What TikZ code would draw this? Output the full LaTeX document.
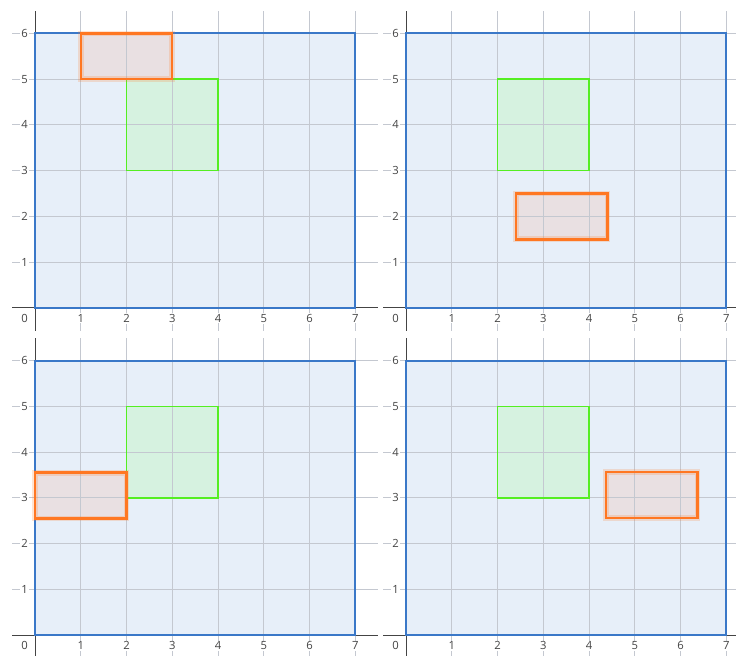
\documentclass[tikz,border=0pt]{standalone}
\usepackage{fontspec}
\setmainfont{Open Sans}
\definecolor{gridgray}{HTML}{C4C8D0}
\definecolor{axisgray}{HTML}{444444}
\definecolor{boxblue}{HTML}{3A78C8}
\definecolor{boxbluefill}{HTML}{E7EFF9}
\definecolor{boxgreen}{HTML}{55EE22}
\definecolor{boxgreenfill}{HTML}{D6F2E0}
\definecolor{boxorange}{HTML}{FF7722}
\definecolor{boxorangefill}{HTML}{E9E0E2}
\tikzset{
  gridline/.style={draw=gridgray, line width=0.6pt},
  axisline/.style={draw=axisgray, line width=0.6pt},
  ticklabel/.style={fill=white, text=axisgray, inner sep=0.6pt, font=\fontsize{7}{8}\selectfont},
  outerbox/.style={draw=boxblue, line width=1.2pt},
  targetbox/.style={draw=boxgreen, line width=1pt},
  movebox/.style={draw=boxorange, line width=1.5pt},
  moveglow/.style={draw=boxorange, draw opacity=0.2, line width=3.6pt},
}
\begin{document}
\begin{tikzpicture}
\useasboundingbox (-0.765,-7.587) rectangle (15.32,6.73);
% one panel per position of the orange box
\foreach \px/\py/\ox/\oy in {0/0/1/5, 8.11/0/2.4/1.5, 0/-7.15/0/2.55, 8.11/-7.15/4.37/2.56}{
  \begin{scope}[shift={(\px,\py)}]
    \fill[boxbluefill] (0,0) rectangle (7,6);
    \fill[boxgreenfill] (2,3) rectangle (4,5);
    \fill[boxorangefill] (\ox,\oy) rectangle ++(2,1);
    \foreach \x in {1,...,7} \draw[gridline] (\x,-0.5) -- (\x,6.5);
    \foreach \y in {1,...,6} \draw[gridline] (-0.5,\y) -- (7.5,\y);
    \draw[axisline] (0,-0.5) -- (0,6.5);
    \draw[axisline] (-0.5,0) -- (7.5,0);
    \foreach \x in {1,...,7} \node[ticklabel] at (\x,-0.23) {\x};
    \foreach \y in {1,...,6} \node[ticklabel] at (-0.23,\y) {\y};
    \node[ticklabel] at (-0.23,-0.23) {0};
    \draw[outerbox] (0,0) rectangle (7,6);
    \draw[targetbox] (2,3) rectangle (4,5);
    \draw[moveglow] (\ox,\oy) rectangle ++(2,1);
    \draw[movebox] (\ox,\oy) rectangle ++(2,1);
  \end{scope}
}
\end{tikzpicture}
\end{document}
